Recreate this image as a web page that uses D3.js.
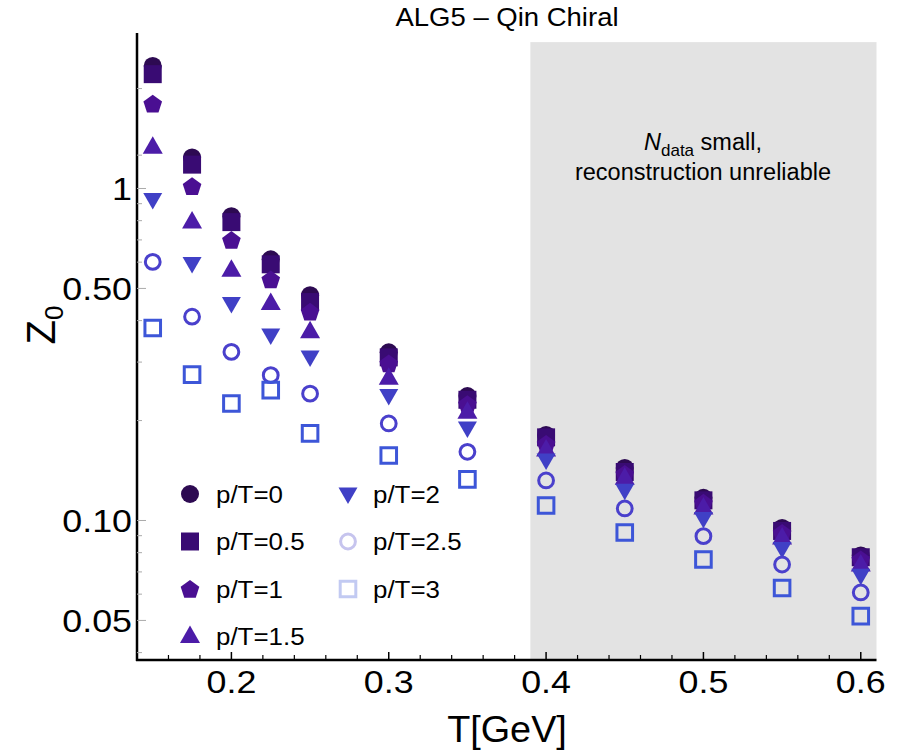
<!DOCTYPE html>
<html>
<head>
<meta charset="utf-8">
<script src="https://cdn.jsdelivr.net/npm/d3@7"></script>
<style>
  body { margin: 0; background: #fff; }
  text { font-family: "Liberation Sans", Arial, sans-serif; fill: #000; }
</style>
</head>
<body>
<script>
// data (Z0 vs T, log y)
var temps = [0.15, 0.175, 0.2, 0.225, 0.25, 0.3, 0.35, 0.4, 0.45, 0.5, 0.55, 0.6];
var z0_p0  = [2.34, 1.24, 0.825, 0.612, 0.477, 0.321, 0.237, 0.181, 0.144, 0.117, 0.095, 0.0785];
var z0_p05 = [2.21, 1.18, 0.792, 0.591, 0.455, 0.310, 0.231, 0.178, 0.140, 0.115, 0.093, 0.0775];
var z0_p1  = [1.80, 1.016, 0.699, 0.532, 0.425, 0.297, 0.224, 0.170, 0.138, 0.113, 0.0917, 0.0763];
var z0_p15 = [1.33, 0.793, 0.567, 0.450, 0.370, 0.268, 0.212, 0.163, 0.134, 0.109, 0.0885, 0.0735];
var z0_p2  = [0.927, 0.594, 0.450, 0.362, 0.311, 0.238, 0.190, 0.152, 0.1234, 0.1014, 0.0824, 0.0684];
var z0_p25 = [0.601, 0.411, 0.322, 0.274, 0.241, 0.196, 0.161, 0.132, 0.1087, 0.0897, 0.0737, 0.0607];
var z0_p3  = [0.380, 0.275, 0.225, 0.247, 0.183, 0.157, 0.133, 0.111, 0.092, 0.0763, 0.0626, 0.0515];

var seriesLabels = ["p/T=0", "p/T=0.5", "p/T=1", "p/T=1.5", "p/T=2", "p/T=2.5", "p/T=3"];
var seriesShapes = ["circle", "square", "pentagon", "up", "down", "ocircle", "osquare"];
var seriesColors = ["#2d0a52", "#390b73", "#4a0f92", "#4c1ca8", "#4040c6", "#4a40cc", "#3d56d8"];
var legendColors = ["#2d0a52", "#390b73", "#4a0f92", "#4c1ca8", "#4040c6", "#c6c4ee", "#c2caf2"];

var xTicks = [0.2, 0.3, 0.4, 0.5, 0.6];
var xMinor = [0.16, 0.18, 0.22, 0.24, 0.26, 0.28, 0.32, 0.34, 0.36, 0.38, 0.42, 0.44, 0.46, 0.48, 0.52, 0.54, 0.56, 0.58];
var yTicks = [0.05, 0.1, 0.5, 1];
var yTickLabels = ["0.05", "0.10", "0.50", "1"];
var yMinor = [0.04, 0.06, 0.07, 0.08, 0.09, 0.2, 0.3, 0.4, 0.6, 0.7, 0.8, 0.9, 1.26, 2];
var unreliableFrom = 0.39;

var allSeries = [z0_p0, z0_p05, z0_p1, z0_p15, z0_p2, z0_p25, z0_p3];

var svg = d3.select("body")
   .append("svg")
   .attr("width", 900)
   .attr("height", 750);

var x = d3.scaleLinear().domain([0.14, 0.61]).range([137, 876.5]);
var y = d3.scaleLog().domain([0.038, 2.94]).range([660, 33]);

// shaded region
svg.append("rect")
   .attr("x", x(unreliableFrom))
   .attr("y", y(2.76))
   .attr("width", x(0.61) - x(unreliableFrom))
   .attr("height", y(0.038) - y(2.76))
   .style("fill", "#e3e3e3");

function markerPath(shape) {
   if (shape == "circle") return d3.symbol().type(d3.symbolCircle).size(Math.PI * 81)();
   if (shape == "ocircle") return d3.symbol().type(d3.symbolCircle).size(Math.PI * 7.4 * 7.4)();
   if (shape == "square") return "M-9,-9H9V9H-9Z";
   if (shape == "osquare") return "M-7.8,-7.8H7.8V7.8H-7.8Z";
   if (shape == "up") return "M0,-11L10,6.5L-10,6.5Z";
   if (shape == "down") return "M0,10L9.5,-6.5L-9.5,-6.5Z";
   // pentagon
   var pts = [];
   for (var k = 0; k < 5; k++) {
      var a = -Math.PI / 2 + k * 2 * Math.PI / 5;
      pts.push([9.8 * Math.cos(a), 9.8 * Math.sin(a) + 0.8]);
   }
   return "M" + pts.join("L") + "Z";
}

function styleMarker(sel, shape, color) {
   if (shape == "ocircle" || shape == "osquare") {
      sel.style("fill", "none").style("stroke", color).style("stroke-width", 3);
   } else {
      sel.style("fill", color);
   }
}

// points
allSeries.forEach(function(vals, si) {
   var pts = svg.append("g").selectAll("path")
      .data(temps.map(function(t, i) { return { t: t, v: vals[i] }; }))
      .enter()
      .append("path")
      .attr("d", markerPath(seriesShapes[si]))
      .attr("transform", function(d) {
         return "translate(" + x(d.t) + "," + y(d.v) + ")";
      });
   styleMarker(pts, seriesShapes[si], seriesColors[si]);
});

// axes
var axisG = svg.append("g");
axisG.append("line")
   .attr("x1", 137).attr("x2", 137)
   .attr("y1", y(2.94)).attr("y2", y(0.038) + 1)
   .style("stroke", "#000").style("stroke-width", 2.5);
axisG.append("line")
   .attr("x1", 136).attr("x2", x(0.61))
   .attr("y1", y(0.038)).attr("y2", y(0.038))
   .style("stroke", "#000").style("stroke-width", 2.5);

axisG.selectAll(".xmaj").data(xTicks).enter().append("line")
   .attr("x1", function(d) { return x(d) }).attr("x2", function(d) { return x(d) })
   .attr("y1", 660).attr("y2", 652)
   .style("stroke", "#000").style("stroke-width", 1.5);
axisG.selectAll(".xmin").data(xMinor).enter().append("line")
   .attr("x1", function(d) { return x(d) }).attr("x2", function(d) { return x(d) })
   .attr("y1", 660).attr("y2", 655)
   .style("stroke", "#000").style("stroke-width", 1.2);

axisG.selectAll(".ymaj").data(yTicks).enter().append("line")
   .attr("x1", 137).attr("x2", 146)
   .attr("y1", function(d) { return y(d) }).attr("y2", function(d) { return y(d) })
   .style("stroke", "#aaa").style("stroke-width", 1);
axisG.selectAll(".ymin").data(yMinor).enter().append("line")
   .attr("x1", 137).attr("x2", 142)
   .attr("y1", function(d) { return y(d) }).attr("y2", function(d) { return y(d) })
   .style("stroke", "#aaa").style("stroke-width", 1);

axisG.selectAll(".xlab").data(xTicks).enter().append("text")
   .attr("transform", function(d) { return "translate(" + x(d) + ",693) scale(1.12,1)" })
   .attr("text-anchor", "middle")
   .style("font-size", "32px")
   .text(function(d) { return d3.format(".1f")(d) });

axisG.selectAll(".ylab").data(yTicks).enter().append("text")
   .attr("transform", function(d) { return "translate(132," + (y(d) + 11.5) + ") scale(1.12,1)" })
   .attr("text-anchor", "end")
   .style("font-size", "32px")
   .text(function(d, i) { return yTickLabels[i] });

// titles
svg.append("text")
   .attr("transform", "translate(507,742) scale(1.05,1)")
   .attr("text-anchor", "middle")
   .style("font-size", "36px")
   .text("T[GeV]");

var zt = svg.append("text")
   .attr("transform", "translate(55,325) rotate(-90)")
   .attr("text-anchor", "middle")
   .style("font-size", "40px");
zt.append("tspan").text("Z");
zt.append("tspan").attr("dy", 8).style("font-size", "26px").text("0");

svg.append("text")
   .attr("transform", "translate(507,26) scale(1.1,1)")
   .attr("text-anchor", "middle")
   .style("font-size", "25px")
   .text("ALG5 \u2013 Qin Chiral");

// annotation
var ann = svg.append("text")
   .attr("x", 703).attr("y", 150)
   .attr("text-anchor", "middle")
   .style("font-size", "23.5px");
ann.append("tspan").style("font-style", "italic").text("N");
ann.append("tspan").attr("dy", 6).style("font-size", "17px").text("data");
ann.append("tspan").attr("dy", -6).text(" small,");
svg.append("text")
   .attr("x", 703).attr("y", 180)
   .attr("text-anchor", "middle")
   .style("font-size", "23.5px")
   .text("reconstruction unreliable");

// legend
var legend = svg.append("g").selectAll("g")
   .data(seriesLabels)
   .enter()
   .append("g")
   .attr("transform", function(d, i) {
      var col = i < 4 ? 0 : 1;
      var row = i < 4 ? i : i - 4;
      return "translate(" + (col == 0 ? 190 : 348) + "," + (494 + row * 47.5) + ")";
   });

legend.each(function(d, i) {
   var m = d3.select(this).append("path").attr("d", markerPath(seriesShapes[i]));
   styleMarker(m, seriesShapes[i], legendColors[i]);
   d3.select(this).append("text")
      .attr("transform", "translate(" + (i < 4 ? 26 : 25) + ",8.5) scale(1.08,1)")
      .style("font-size", "24px")
      .text(d);
});
</script>
</body>
</html>
